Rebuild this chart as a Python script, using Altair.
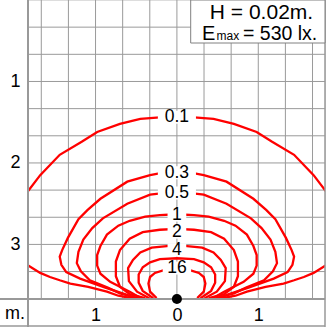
import altair as alt
import pandas as pd

levels = ["0.1", "0.3", "0.5", "1", "2", "4", "8", "16"]

# left halves, from the bottom end up to the top of each curve (x <= 0)
c01_x = [-0.56, -0.72, -0.86, -1.09, -1.31, -1.44, -1.56, -1.68, -1.84, -2.02, -2.11, -2.02, -1.84, -1.68, -1.44, -1.17, -0.98, -0.70, -0.45, -0.21, 0.0]
c01_y = [3.66, 3.63, 3.58, 3.52, 3.48, 3.44, 3.40, 3.35, 3.25, 3.09, 2.82, 2.55, 2.36, 2.15, 1.90, 1.74, 1.62, 1.52, 1.46, 1.44, 1.43]
c03_x = [-0.52, -0.64, -0.88, -1.19, -1.36, -1.42, -1.44, -1.41, -1.34, -1.21, -1.10, -0.94, -0.61, -0.33, -0.17, 0.0]
c03_y = [3.66, 3.61, 3.53, 3.42, 3.34, 3.25, 3.15, 3.07, 2.92, 2.69, 2.58, 2.44, 2.23, 2.15, 2.12, 2.12]
c05_x = [-0.48, -0.70, -0.85, -1.07, -1.18, -1.23, -1.21, -1.15, -1.04, -0.91, -0.61, -0.33, -0.17, 0.0]
c05_y = [3.66, 3.60, 3.53, 3.44, 3.33, 3.23, 3.09, 2.94, 2.80, 2.68, 2.50, 2.39, 2.37, 2.37]
c1_x = [-0.44, -0.58, -0.82, -0.94, -0.98, -0.98, -0.94, -0.86, -0.72, -0.58, -0.39, -0.21, 0.0]
c1_y = [3.66, 3.58, 3.46, 3.36, 3.26, 3.13, 3.02, 2.88, 2.77, 2.71, 2.66, 2.64, 2.63]
c2_x = [-0.39, -0.58, -0.70, -0.75, -0.75, -0.70, -0.58, -0.42, -0.21, 0.0]
c2_y = [3.66, 3.61, 3.52, 3.39, 3.21, 3.07, 2.93, 2.85, 2.82, 2.81]
c4_x = [-0.34, -0.49, -0.59, -0.60, -0.54, -0.45, -0.31, 0.0]
c4_y = [3.66, 3.58, 3.45, 3.29, 3.19, 3.10, 3.04, 3.01]
c8_x = [-0.29, -0.42, -0.47, -0.47, -0.42, -0.33, -0.21, 0.0]
c8_y = [3.66, 3.57, 3.47, 3.37, 3.28, 3.22, 3.18, 3.17]
c16_x = [-0.25, -0.33, -0.35, -0.33, -0.27, -0.17, 0.0]
c16_y = [3.66, 3.58, 3.48, 3.40, 3.35, 3.32, 3.31]

label_text = ["0.1", "0.3", "0.5", "1", "2", "4", "16"]
label_y = [1.44, 2.12, 2.37, 2.64, 2.85, 3.07, 3.29]

source_x = [0.0]
source_y = [3.67]

grid_x = [-1.6667, -1.3333, -1, -0.6667, -0.3333, 0, 0.3333, 0.6667, 1, 1.3333, 1.6667]
grid_y = [0.3333, 0.6667, 1, 1.3333, 1.6667, 2, 2.3333, 2.6667, 3, 3.3333]
tick_x = [-1, 0, 1]
tick_y = [1, 2, 3]

# ---- build tables ----
halves = [(c01_x, c01_y), (c03_x, c03_y), (c05_x, c05_y), (c1_x, c1_y),
          (c2_x, c2_y), (c4_x, c4_y), (c8_x, c8_y), (c16_x, c16_y)]
rows = []
for lev, (hx, hy) in zip(levels, halves):
    i = 0
    for x, y in zip(hx, hy):
        rows.append({"level": lev, "x": x, "y": y, "i": i}); i += 1
    for x, y in zip(reversed(hx[:-1]), reversed(hy[:-1])):
        rows.append({"level": lev, "x": -x, "y": y, "i": i}); i += 1
curves = pd.DataFrame(rows)
labels = pd.DataFrame({"t": label_text, "x": [0.0] * len(label_text), "y": label_y})
source = pd.DataFrame({"x": source_x, "y": source_y})
gx = pd.DataFrame({"gx": grid_x})
gy = pd.DataFrame({"gy": grid_y})

FONT = "Liberation Sans"
W, H = 297, 299
GRID = "#9a9a9a"
xs = alt.Scale(domain=[-1.83, 1.82], nice=False, zero=False)
ys = alt.Scale(domain=[0, 3.67], nice=False, zero=False, reverse=True)

xenc = alt.X("x:Q", scale=xs, axis=alt.Axis(values=tick_x, grid=False, ticks=False, tickSize=0,
             domain=False, title=None, labelExpr="format(abs(datum.value), 'd')",
             labelFontSize=18, labelFont=FONT, labelColor="black", labelPadding=21,
             labelBaseline="alphabetic", labelOverlap=False, labelFlush=False))
yenc = alt.Y("y:Q", scale=ys, axis=alt.Axis(values=tick_y, grid=False, ticks=False, tickSize=0,
             domain=False, title=None, format="d", labelFontSize=18, labelFont=FONT,
             labelColor="black", labelPadding=13, labelAlign="center", labelBaseline="middle",
             labelOverlap=False, labelFlush=False))

vgrid = alt.Chart(gx).mark_rule(color=GRID, strokeWidth=1).encode(
    x=alt.X("gx:Q", scale=xs))
hgrid = alt.Chart(gy).mark_rule(color=GRID, strokeWidth=1).encode(
    y=alt.Y("gy:Q", scale=ys))

lines = alt.Chart(curves).mark_line(color="#ff0000", strokeWidth=2.3, clip=True).encode(
    x=xenc, y=yenc, detail="level:N", order="i:Q")

# white gap behind each contour label
gap = alt.Chart(labels).transform_calculate(w="length(datum.t) * 9.7 + 9").mark_tick(
    orient="horizontal", thickness=13, color="white", opacity=1).encode(
    x=alt.X("x:Q", scale=xs), y=alt.Y("y:Q", scale=ys), size=alt.Size("w:Q", scale=None))
txt = alt.Chart(labels).mark_text(font=FONT, fontSize=17.5, color="black",
                                  baseline="middle", align="center").encode(
    x=alt.X("x:Q", scale=xs), y=alt.Y("y:Q", scale=ys), text="t:N")

dot = alt.Chart(source).mark_point(filled=True, color="black", size=100, opacity=1, shape="circle").encode(
    x=alt.X("x:Q", scale=xs), y=alt.Y("y:Q", scale=ys))

border_color = "#999999"
r_left = alt.Chart(source).mark_rule(color=border_color, strokeWidth=2).encode(
    x=alt.value(0), y=alt.value(0), y2=alt.value(327))
r_bottom = alt.Chart(source).mark_rule(color=border_color, strokeWidth=2).encode(
    x=alt.value(-28), x2=alt.value(297), y=alt.value(299))
r_right = alt.Chart(source).mark_rule(color=border_color, strokeWidth=1.5).encode(
    x=alt.value(297), y=alt.value(0), y2=alt.value(327))
r_base = alt.Chart(source).mark_rule(color=border_color, strokeWidth=1.5).encode(
    x=alt.value(-28), x2=alt.value(297), y=alt.value(326))

m_label = alt.Chart(source).mark_text(text="m.", font=FONT, fontSize=18, color="black",
                                      align="center", baseline="alphabetic").encode(
    x=alt.value(-13), y=alt.value(319))

box = alt.Chart(source).mark_rect(fill="white", stroke="#808080", strokeWidth=1).encode(
    x=alt.value(162.7), x2=alt.value(297), y=alt.value(0), y2=alt.value(43))
leg1 = alt.Chart(source).mark_text(text="H = 0.02m.", font=FONT, fontSize=21, color="black",
                                   align="center", baseline="alphabetic").encode(
    x=alt.value(233.5), y=alt.value(18.5))
leg_e = alt.Chart(source).mark_text(text="E", font=FONT, fontSize=20, color="black",
                                    align="left", baseline="alphabetic").encode(
    x=alt.value(174), y=alt.value(40))
leg_max = alt.Chart(source).mark_text(text="max", font=FONT, fontSize=12, color="black",
                                      align="left", baseline="alphabetic").encode(
    x=alt.value(188.5), y=alt.value(40))
leg_rest = alt.Chart(source).mark_text(text="= 530 lx.", font=FONT, fontSize=19.5, color="black",
                                       align="left", baseline="alphabetic").encode(
    x=alt.value(215), y=alt.value(40))

chart = alt.layer(vgrid, hgrid, lines, gap, txt, r_left, r_bottom, r_right, r_base, dot, m_label,
                  box, leg1, leg_e, leg_max, leg_rest).properties(
    width=W, height=H,
    autosize=alt.AutoSizeParams(type="none"),
    padding={"left": 28, "top": 0, "right": 3, "bottom": 28},
).configure_view(stroke=None).configure(background="white")

chart.save("out.html", embed_options={"renderer": "svg", "actions": False})
